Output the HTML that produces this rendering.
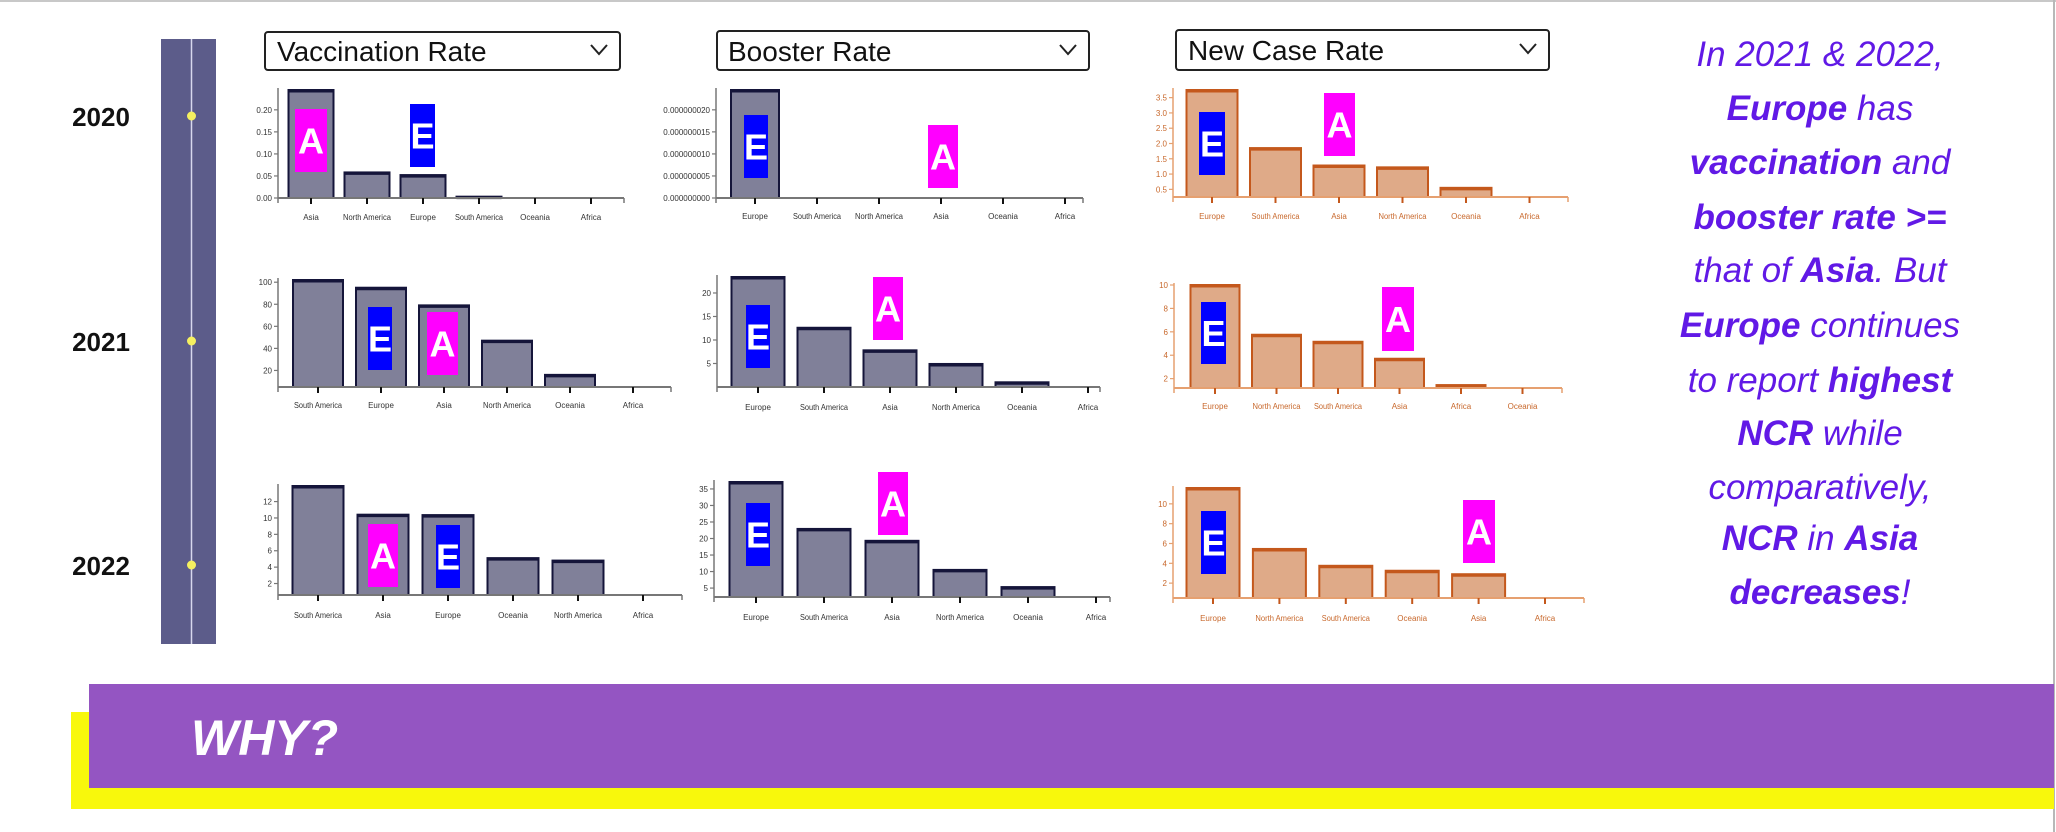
<!DOCTYPE html>
<html><head><meta charset="utf-8"><style>
html,body{margin:0;padding:0;background:#fff;}
svg{display:block;}
</style></head><body>
<svg id="root" width="2056" height="832" viewBox="0 0 2056 832" xmlns="http://www.w3.org/2000/svg">
<rect x="0" y="0" width="2056" height="832" fill="#fff"/>
<line x1="0" y1="1" x2="2056" y2="1" stroke="#c8c8c8" stroke-width="2"/>
<line x1="2054" y1="0" x2="2054" y2="832" stroke="#b8b8b8" stroke-width="2"/>
<g>
<rect x="161" y="39" width="55" height="605" fill="#5c5c8a"/>
<line x1="191.5" y1="39" x2="191.5" y2="644" stroke="#d8d8ee" stroke-width="1.5"/>
<circle cx="191.5" cy="116" r="4.5" fill="#f5f060"/>
<circle cx="191.5" cy="341" r="4.5" fill="#f5f060"/>
<circle cx="191.5" cy="565" r="4.5" fill="#f5f060"/>
</g>
<g font-family="Liberation Sans, sans-serif" font-weight="bold" font-size="26" fill="#111" text-anchor="middle">
<text x="101" y="126">2020</text>
<text x="101" y="351">2021</text>
<text x="101" y="575">2022</text>
</g>
<g font-family="Liberation Sans, sans-serif" font-size="28" fill="#111">
<g>
<rect x="265" y="32" width="355" height="38" rx="3" fill="#fff" stroke="#222" stroke-width="2"/>
<text x="277" y="61">Vaccination Rate</text>
<path d="M591 45 l8 9 l8 -9" fill="none" stroke="#222" stroke-width="2"/>
</g>
<g>
<rect x="717" y="31" width="372" height="39" rx="3" fill="#fff" stroke="#222" stroke-width="2"/>
<text x="728" y="61">Booster Rate</text>
<path d="M1060 45 l8 9 l8 -9" fill="none" stroke="#222" stroke-width="2"/>
</g>
<g>
<rect x="1176" y="30" width="373" height="40" rx="3" fill="#fff" stroke="#222" stroke-width="2"/>
<text x="1188" y="60">New Case Rate</text>
<path d="M1520 44 l8 9 l8 -9" fill="none" stroke="#222" stroke-width="2"/>
</g>
</g>
<g id="charts"></g>
<g id="notes"></g>
<g font-family="Liberation Sans, sans-serif" font-style="italic" font-size="35" fill="#6119e6" text-anchor="middle">
<text x="1820" y="66">In 2021 &amp; 2022,</text>
<text x="1820" y="120"><tspan font-weight="bold">Europe</tspan> has</text>
<text x="1820" y="174"><tspan font-weight="bold">vaccination</tspan> and</text>
<text x="1820" y="229"><tspan font-weight="bold">booster rate &gt;=</tspan></text>
<text x="1820" y="282">that of <tspan font-weight="bold">Asia</tspan>. But</text>
<text x="1820" y="337"><tspan font-weight="bold">Europe</tspan> continues</text>
<text x="1820" y="392">to report <tspan font-weight="bold">highest</tspan></text>
<text x="1820" y="445"><tspan font-weight="bold">NCR</tspan> while</text>
<text x="1820" y="499">comparatively,</text>
<text x="1820" y="550"><tspan font-weight="bold">NCR</tspan> in <tspan font-weight="bold">Asia</tspan></text>
<text x="1820" y="604"><tspan font-weight="bold">decreases</tspan>!</text>
</g>
<rect x="71" y="712" width="1983" height="97" fill="#f8f80c"/>
<rect x="89" y="684" width="1965" height="104" fill="#9455c2"/>
<text x="191" y="755" font-family="Liberation Sans, sans-serif" font-style="italic" font-weight="bold" font-size="50" fill="#fff">WHY?</text>
</svg>
<script>
const vacc2020Cats = ["Asia","North America","Europe","South America","Oceania","Africa"];
const vacc2020Vals = [0.245,0.058,0.052,0.003,0,0];
const vacc2020Ticks = [0,0.05,0.10,0.15,0.20];
const vacc2020TickLabels = ["0.00","0.05","0.10","0.15","0.20"];

const boost2020Cats = ["Europe","South America","North America","Asia","Oceania","Africa"];
const boost2020Vals = [0.0000000245,0,0,0,0,0];
const boost2020Ticks = [0,0.000000005,0.00000001,0.000000015,0.00000002];
const boost2020TickLabels = ["0.000000000","0.000000005","0.000000010","0.000000015","0.000000020"];

const ncr2020Cats = ["Europe","South America","Asia","North America","Oceania","Africa"];
const ncr2020Vals = [3.75,1.85,1.28,1.22,0.55,0.25];
const ncr2020Ticks = [0.5,1.0,1.5,2.0,2.5,3.0,3.5];
const ncr2020TickLabels = ["0.5","1.0","1.5","2.0","2.5","3.0","3.5"];

const vacc2021Cats = ["South America","Europe","Asia","North America","Oceania","Africa"];
const vacc2021Vals = [102,95,79,47,16,5];
const vacc2021Ticks = [20,40,60,80,100];
const vacc2021TickLabels = ["20","40","60","80","100"];

const boost2021Cats = ["Europe","South America","Asia","North America","Oceania","Africa"];
const boost2021Vals = [23.4,12.6,7.8,4.9,1.0,0];
const boost2021Ticks = [5,10,15,20];
const boost2021TickLabels = ["5","10","15","20"];

const ncr2021Cats = ["Europe","North America","South America","Asia","Africa","Oceania"];
const ncr2021Vals = [10.0,5.75,5.15,3.7,1.45,1.2];
const ncr2021Ticks = [2,4,6,8,10];
const ncr2021TickLabels = ["2","4","6","8","10"];

const vacc2022Cats = ["South America","Asia","Europe","Oceania","North America","Africa"];
const vacc2022Vals = [13.9,10.4,10.35,5.1,4.8,0.6];
const vacc2022Ticks = [2,4,6,8,10,12];
const vacc2022TickLabels = ["2","4","6","8","10","12"];

const boost2022Cats = ["Europe","South America","Asia","North America","Oceania","Africa"];
const boost2022Vals = [37.1,22.9,19.3,10.5,5.3,2.3];
const boost2022Ticks = [5,10,15,20,25,30,35];
const boost2022TickLabels = ["5","10","15","20","25","30","35"];

const ncr2022Cats = ["Europe","North America","South America","Oceania","Asia","Africa"];
const ncr2022Vals = [11.6,5.45,3.75,3.25,2.9,0.5];
const ncr2022Ticks = [2,4,6,8,10];
const ncr2022TickLabels = ["2","4","6","8","10"];

const NS = "http://www.w3.org/2000/svg";
const GRAY = {fill:"#808099", stroke:"#15153a", axis:"#777", text:"#333"};
const ORNG = {fill:"#dfaa88", stroke:"#c4581c", axis:"#e6a070", text:"#c8682c"};
const panels = [
 {name:"vaccination-2020", cats:vacc2020Cats, vals:vacc2020Vals, ticks:vacc2020Ticks, tl:vacc2020TickLabels, ax:278, end:624, base:198, top:90, c0:311, step:56, bw:45, ly:220, st:GRAY},
 {name:"booster-2020", cats:boost2020Cats, vals:boost2020Vals, ticks:boost2020Ticks, tl:boost2020TickLabels, ax:716, end:1083, base:198, top:90, c0:755, step:62, bw:48, ly:219, st:GRAY},
 {name:"new-case-2020", cats:ncr2020Cats, vals:ncr2020Vals, ticks:ncr2020Ticks, tl:ncr2020TickLabels, ax:1173, end:1568, base:197, top:90, c0:1212, step:63.5, bw:51, ly:219, st:ORNG},
 {name:"vaccination-2021", cats:vacc2021Cats, vals:vacc2021Vals, ticks:vacc2021Ticks, tl:vacc2021TickLabels, ax:278, end:671, base:387, top:280, c0:318, step:63, bw:50, ly:408, st:GRAY},
 {name:"booster-2021", cats:boost2021Cats, vals:boost2021Vals, ticks:boost2021Ticks, tl:boost2021TickLabels, ax:717, end:1100, base:387, top:277, c0:758, step:66, bw:53, ly:410, st:GRAY},
 {name:"new-case-2021", cats:ncr2021Cats, vals:ncr2021Vals, ticks:ncr2021Ticks, tl:ncr2021TickLabels, ax:1174, end:1562, base:388, top:285, c0:1215, step:61.5, bw:49, ly:409, st:ORNG},
 {name:"vaccination-2022", cats:vacc2022Cats, vals:vacc2022Vals, ticks:vacc2022Ticks, tl:vacc2022TickLabels, ax:278, end:682, base:595, top:486, c0:318, step:65, bw:51, ly:618, st:GRAY},
 {name:"booster-2022", cats:boost2022Cats, vals:boost2022Vals, ticks:boost2022Ticks, tl:boost2022TickLabels, ax:714, end:1110, base:597, top:482, c0:756, step:68, bw:53, ly:620, st:GRAY},
 {name:"new-case-2022", cats:ncr2022Cats, vals:ncr2022Vals, ticks:ncr2022Ticks, tl:ncr2022TickLabels, ax:1173, end:1584, base:598, top:488, c0:1213, step:66.4, bw:53, ly:621, st:ORNG}
];
function mk(tag, attrs, parent){
  const e = document.createElementNS(NS, tag);
  for (const k in attrs) e.setAttribute(k, attrs[k]);
  parent.appendChild(e);
  return e;
}
const charts = document.getElementById("charts");
panels.forEach(p => {
  const g = mk("g", {}, charts);
  
  
  const mn = Math.min(...p.vals), mx = Math.max(...p.vals);
  const y = v => p.base - (v - mn) / ((mx - mn) || 1) * (p.base - p.top);
  const x = i => p.c0 + i * p.step;
  const ya = mk("line", {x1:p.ax, y1:p.top - 2, x2:p.ax, y2:p.base + 5, stroke:p.st.axis, "stroke-width":1.5}, g);
  
  
  p.ticks.forEach((t, i) => {
    const ty = y(t);
    mk("line", {x1:p.ax - 4, y1:ty, x2:p.ax, y2:ty, stroke:p.st.axis, "stroke-width":1.2}, g);
    const tt = mk("text", {x:p.ax - 6, y:ty + 3, "font-size":8, "font-family":"Liberation Sans, sans-serif", fill:p.st.text, "text-anchor":"end"}, g);
    tt.textContent = p.tl[i];
    
    
  });
  p.vals.forEach((v, i) => {
    const by = y(v), h = p.base - by;
    if (h > 0.3) {
      const r = mk("rect", {x:x(i) - p.bw/2, y:by, width:p.bw, height:h, fill:p.st.fill, stroke:p.st.stroke, "stroke-width":2}, g);
      
      
      mk("line", {x1:x(i) - p.bw/2, y1:by + 1, x2:x(i) + p.bw/2, y2:by + 1, stroke:p.st.stroke, "stroke-width":3}, g);
    }
  });
  const xa = mk("line", {x1:p.ax, y1:p.base, x2:p.end, y2:p.base, stroke:p.st.axis, "stroke-width":2}, g);
  
  
  mk("line", {x1:p.end, y1:p.base, x2:p.end, y2:p.base + 5, stroke:p.st.axis, "stroke-width":1.5}, g);
  p.cats.forEach((c, i) => {
    mk("line", {x1:x(i), y1:p.base, x2:x(i), y2:p.base + 6, stroke:p.st === GRAY ? "#111" : p.st.stroke, "stroke-width":2}, g);
    const attrs = {x:x(i), y:p.ly, "font-size":8, "font-family":"Liberation Sans, sans-serif", fill:p.st.text, "text-anchor":"middle"};
    if (c.length > 8) { attrs.textLength = 48; attrs.lengthAdjust = "spacingAndGlyphs"; }
    const lt = mk("text", attrs, g);
    lt.textContent = c;
    
    
  });
});
const badgeLetters = ["A","E","E","A","E","A","A","E","A","E","E","A","A","E","E","A","E","A"];
const badgeBoxes = [
 [295,109,32,63],[410,104,25,63],
 [744,115,24,63],[928,125,30,63],
 [1199,112,26,63],[1324,93,31,63],
 [427,312,31,63],[368,307,24,63],
 [873,277,30,63],[746,305,24,63],
 [1201,302,25,62],[1382,287,32,64],
 [368,524,30,63],[436,525,24,63],
 [746,503,24,63],[878,472,30,63],
 [1201,511,25,63],[1463,500,32,63]
];
const notes = document.getElementById("notes");
badgeBoxes.forEach((b, i) => {
  const L = badgeLetters[i];
  const g = mk("g", {}, notes);
  
  
  mk("rect", {x:b[0], y:b[1], width:b[2], height:b[3], fill: L === "A" ? "#ff00ff" : "#0000ff"}, g);
  const t = mk("text", {x:b[0] + b[2]/2, y:b[1] + b[3]/2 + 13, "font-size":36, "font-weight":"bold", "font-family":"Liberation Sans, sans-serif", fill:"#fff", "text-anchor":"middle"}, g);
  t.textContent = L;
});
</script>
</body></html>
